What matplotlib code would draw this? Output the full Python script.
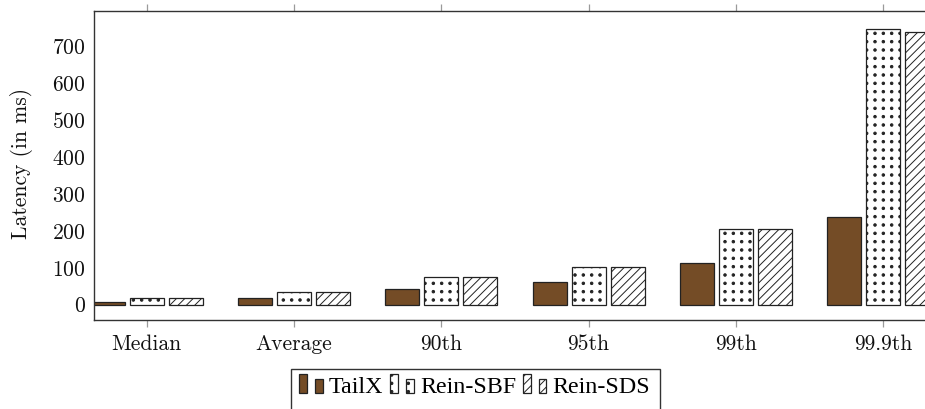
import numpy as np
import matplotlib
matplotlib.use("Agg")
import matplotlib.pyplot as plt
import matplotlib.hatch as mhatch
from matplotlib.path import Path
from matplotlib.patches import Rectangle
from matplotlib.legend_handler import HandlerBase
from matplotlib.font_manager import FontProperties

# ---------------- data ----------------
categories = ["Median", "Average", "90th", "95th", "99th", "99.9th"]
tailx = [8, 18, 42, 62, 114, 238]
rein_sbf = [19, 35, 75, 102, 205, 746]
rein_sds = [19, 35, 75, 102, 205, 739]
series_names = ["TailX", "Rein-SBF", "Rein-SDS"]
y_ticks = [0, 100, 200, 300, 400, 500, 600, 700]


# ------------- square-grid dot hatch (pgfplots "dots" pattern) -------------
class SquareDots(mhatch.Shapes):
    size = 0.15
    filled = True

    def __init__(self, hatch, density):
        self.num_rows = hatch.count('.') * density
        path = Path.unit_circle()
        self.shape_vertices = path.vertices
        self.shape_codes = path.codes
        if self.num_rows == 0:
            self.num_shapes = 0
            self.num_vertices = 0
        else:
            self.num_shapes = (self.num_rows + 1) ** 2
            self.num_vertices = self.num_shapes * len(self.shape_vertices)

    def set_vertices_and_codes(self, vertices, codes):
        offset = 1.0 / self.num_rows
        shape_vertices = self.shape_vertices * offset * self.size
        vparts, cparts = [], []
        cols = np.linspace(0, 1, self.num_rows + 1)
        for row in range(self.num_rows + 1):
            row_pos = row * offset
            for col_pos in cols:
                vparts.append(shape_vertices + [col_pos, row_pos])
                cparts.append(self.shape_codes)
        np.concatenate(vparts, out=vertices)
        np.concatenate(cparts, out=codes)


mhatch._hatch_types = [SquareDots if t is mhatch.SmallFilledCircles else t
                       for t in mhatch._hatch_types]

plt.rcParams['font.family'] = ['cmr10', 'DejaVu Serif']
plt.rcParams['axes.formatter.use_mathtext'] = True
plt.rcParams['hatch.linewidth'] = 0.7
plt.rcParams['hatch.color'] = 'black'

W, H = 925, 409
fig = plt.figure(figsize=(W / 100, H / 100), dpi=100)

# axes geometry in pixels
ax_left, ax_right, ax_top, ax_bottom = 94.3, 935.6, 11.0, 319.5
ax = fig.add_axes([ax_left / W, (H - ax_bottom) / H,
                   (ax_right - ax_left) / W, (ax_bottom - ax_top) / H])

x = np.arange(len(categories))
bw = 0.231
off = 0.265
edge = '#222222'
brown = '#744c26'

b1 = ax.bar(x - off, tailx, bw, color=brown, edgecolor=edge, linewidth=0.9)
b2 = ax.bar(x, rein_sbf, bw, color='white', edgecolor=edge, linewidth=0.9, hatch='..')
b3 = ax.bar(x + off, rein_sds, bw, color='white', edgecolor=edge, linewidth=0.9, hatch='////')

ax.set_xlim(-0.356, len(categories) - 1 + 0.356)
ax.set_ylim(-40, 796)
ax.set_xticks(x)
ax.set_xticklabels(categories)
ax.set_yticks(y_ticks)

for s in ax.spines.values():
    s.set_color('#333333')
    s.set_linewidth(1.0)

ax.tick_params(axis='x', which='both', direction='out', length=5, width=0.9,
               color='#9a9a9a', top=True, labelsize=15.5, pad=6, labelcolor='#111111')
ax.tick_params(axis='y', length=0, labelsize=15.5, pad=6, labelcolor='#111111')

ax.set_ylabel("Latency (in ms)", fontsize=15.5, color='#111111')
ax.yaxis.set_label_coords((33 - ax_left) / (ax_right - ax_left),
                          (ax_bottom - 163) / (ax_bottom - ax_top))


# ------------- legend (pgfplots ybar style icons) -------------
class TwoBarHandler(HandlerBase):
    def create_artists(self, legend, orig_handle, xdescent, ydescent,
                       width, height, fontsize, trans):
        w = 0.33 * fontsize
        arts = []
        for x0, h in [(0.0, 0.78 * fontsize), (2 * w, 0.58 * fontsize)]:
            r = Rectangle((x0 - xdescent, -ydescent), w, h,
                          facecolor=orig_handle.get_facecolor(),
                          edgecolor=orig_handle.get_edgecolor(),
                          hatch=orig_handle.get_hatch(),
                          linewidth=orig_handle.get_linewidth(),
                          transform=trans)
            arts.append(r)
        return arts


handles = [b1.patches[0], b2.patches[0], b3.patches[0]]
leg = fig.legend(handles, series_names, loc='upper left',
                 bbox_to_anchor=(299 / W, (H - 376) / H),
                 borderpad=0, borderaxespad=0, frameon=False, ncol=3,
                 handlelength=0.99, handletextpad=0.25, columnspacing=0.28,
                 prop=FontProperties(family='Liberation Serif', size=17.3),
                 handler_map={Rectangle: TwoBarHandler()})

fig.add_artist(Rectangle((291 / W, -0.05), (660 - 291) / W,
                         (H - 368.5) / H + 0.05, transform=fig.transFigure,
                         fill=False, edgecolor='#333333', linewidth=1.0))

fig.savefig("out.png", dpi=100)
